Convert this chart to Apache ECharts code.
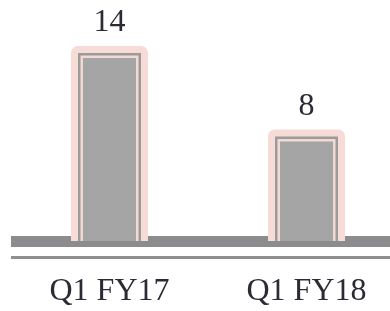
<!DOCTYPE html>
<html>
<head>
<meta charset="utf-8">
<script src="https://cdn.jsdelivr.net/npm/echarts@6/dist/echarts.min.js"></script>
<style>
  html, body { margin: 0; padding: 0; background: #fff; }
  #chart { width: 390px; height: 311px; }
</style>
</head>
<body>
<div id="chart"></div>
<script>
var categories = ['Q1 FY17', 'Q1 FY18'];
var values = [14, 8];

var myChart = echarts.init(document.getElementById('chart'));

var FONT = '"Liberation Serif", "DejaVu Serif", serif';

// bar with pink halo and a double inner frame, standing on the axis
function renderBar(params, api) {
    var top = api.coord([api.value(0), api.value(1)]);
    var base = api.coord([api.value(0), 0]);
    var w = 77;
    var left = top[0] - w / 2;
    function inset(d, color, r) {
        return {
            type: 'rect',
            shape: { x: left + d, y: top[1] + d, width: w - 2 * d, height: base[1] - top[1] - d, r: r || 0 },
            style: { fill: color }
        };
    }
    return {
        type: 'group',
        children: [
            inset(0, '#f6dbd6', [7, 7, 0, 0]),
            inset(7, '#9b9b9b'),
            inset(9.5, '#f3d9d4'),
            inset(12, '#a5a5a5'),
            {
                type: 'text',
                style: {
                    text: String(api.value(1)),
                    x: top[0],
                    y: top[1] - 7,
                    align: 'center',
                    verticalAlign: 'bottom',
                    fontSize: 32,
                    fontFamily: FONT,
                    fill: '#2b2b36'
                }
            }
        ]
    };
}

var option = {
    backgroundColor: '#ffffff',
    animation: false,
    grid: { left: 11, right: -15, top: 46, bottom: 64.5, outerBoundsMode: 'none', containLabel: false },
    xAxis: [{
        type: 'category',
        data: categories,
        axisLine: { show: true, lineStyle: { color: '#8c8c8e', width: 11, cap: 'butt' } },
        axisTick: { show: false },
        axisLabel: {
            margin: 29,
            fontSize: 32,
            fontFamily: FONT,
            color: '#2b2b36'
        }
    }, {
        // thin second rule under the thick axis line
        type: 'category',
        data: categories,
        offset: 10.5,
        position: 'bottom',
        axisLine: { show: true, lineStyle: { color: '#8f8f90', width: 3, cap: 'butt' } },
        axisTick: { show: false },
        axisLabel: { show: false }
    }],
    // the thick axis line covers the bottom of the grid, so zero sits at its top edge
    yAxis: {
        type: 'value',
        min: -0.4,
        max: 14,
        show: false,
        splitLine: { show: false }
    },
    series: [{
        type: 'custom',
        renderItem: renderBar,
        clip: false,
        data: categories.map(function(c, i) { return [i, values[i]]; })
    }]
};

myChart.setOption(option);
</script>
</body>
</html>
